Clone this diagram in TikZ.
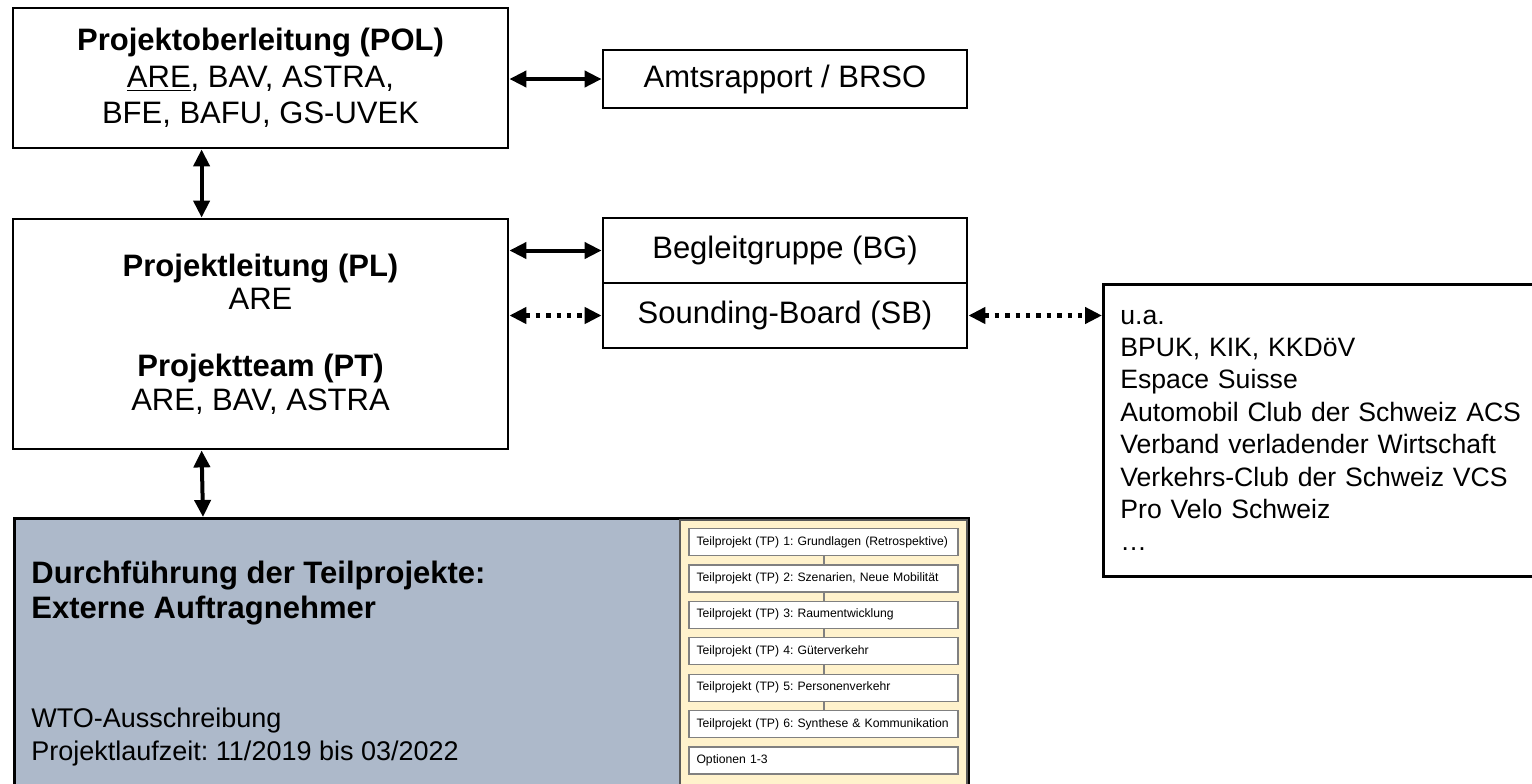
\documentclass[tikz,border=0pt]{standalone}
\usepackage{fontspec}
\setmainfont{Liberation Sans}
\usetikzlibrary{arrows.meta}
\definecolor{dftblue}{HTML}{ADB9CA}
\definecolor{tpcream}{HTML}{FFF2CC}
\frenchspacing

\begin{document}
\begin{tikzpicture}[x=0.5pt, y=-0.5pt,
        box/.style={draw, line width=1.4pt, align=center, inner sep=0pt, font=\fontsize{15.5}{18.3}\selectfont},
        link/.style={{Triangle[length=8.5pt,width=8pt]}-{Triangle[length=8.5pt,width=8pt]}, line width=2pt},
        dotlink/.style={link, line width=2.2pt, dash pattern=on 2.2pt off 3pt},
        tpbox/.style={draw=gray, line width=0.6pt, fill=white, minimum width=134.5pt, minimum height=13.5pt,
            text width=127pt, inner xsep=3.75pt, inner ysep=0pt, align=left, font=\fontsize{6.1}{7}\selectfont},
        tpline/.style={draw=gray, line width=1pt}]
        \useasboundingbox (0,0) rectangle (1532,783);
        \clip (0,0) rectangle (1532,783);

        % steering
        \node[box, minimum width=247.5pt, minimum height=70pt] at (260.5,78) (pol)
            {\textbf{Projektoberleitung (POL)}\\\underline{ARE}, BAV, ASTRA,\\BFE, BAFU, GS-UVEK};
        \node[box, minimum width=182pt, minimum height=29pt] at (785,79) (amtsrapport) {Amtsrapport / BRSO};

        % project management
        \node[box, minimum width=247.5pt, minimum height=115pt, font=\fontsize{15.5}{16.75}\selectfont] at (260.5,334) (pl)
            {\textbf{Projektleitung (PL)}\\ARE\\[16.75pt]\textbf{Projektteam (PT)}\\ARE, BAV, ASTRA};
        \node[box, minimum width=182pt, minimum height=32.5pt] at (785,250.5) (bg) {Begleitgruppe (BG)};
        \node[box, minimum width=182pt, minimum height=32.5pt] at (785,315.5) (sb) {Sounding-Board (SB)};

        % members of the sounding board
        \node[draw, line width=1.4pt, anchor=north west, minimum height=146pt, text width=205pt, inner xsep=8.5pt,
            align=left, font=\fontsize{13.3}{16.2}\selectfont] at (1102,283) (others)
            {u.a.\\BPUK, KIK, KKDöV\\Espace Suisse\\Automobil Club der Schweiz ACS\\Verband verladender Wirtschaft\\Verkehrs-Club der Schweiz VCS\\Pro Velo Schweiz\\…};

        % execution
        \node[draw, line width=1.5pt, fill=dftblue, anchor=north west, minimum width=477pt, minimum height=150pt] at (13,517) (dft) {};
        \node[anchor=west, inner sep=0pt, align=left, font=\bfseries\fontsize{15.5}{17.5}\selectfont] at (31,593) (dft title)
            {Durchführung der Teilprojekte:\\Externe Auftragnehmer};
        \node[anchor=west, inner sep=0pt, align=left, font=\fontsize{13.5}{16.5}\selectfont] at (31,737) (dft info)
            {WTO-Ausschreibung\\Projektlaufzeit: 11/2019 bis 03/2022};

        % sub-projects
        \node[draw=black!65, line width=1pt, fill=tpcream, anchor=north west, minimum width=143.5pt, minimum height=140pt] at (679,519) (tp list) {};
        \node[tpbox] at (823.5,542) (tp1) {Teilprojekt (TP) 1: Grundlagen (Retrospektive)};
        \node[tpbox] at (823.5,578.4) (tp2) {Teilprojekt (TP) 2: Szenarien, Neue Mobilität};
        \node[tpbox] at (823.5,614.8) (tp3) {Teilprojekt (TP) 3: Raumentwicklung};
        \node[tpbox] at (823.5,651.2) (tp4) {Teilprojekt (TP) 4: Güterverkehr};
        \node[tpbox] at (823.5,687.6) (tp5) {Teilprojekt (TP) 5: Personenverkehr};
        \node[tpbox] at (823.5,724) (tp6) {Teilprojekt (TP) 6: Synthese \& Kommunikation};
        \node[tpbox] at (823.5,760.4) (options) {Optionen 1-3};
        \draw[tpline] (tp1) -- (tp2);
        \draw[tpline] (tp2) -- (tp3);
        \draw[tpline] (tp3) -- (tp4);
        \draw[tpline] (tp4) -- (tp5);
        \draw[tpline] (tp5) -- (tp6);

        % links
        \draw[link] (amtsrapport.west-|pol.east) -- (amtsrapport.west);
        \draw[link] ([xshift=95pt]pol.south west) -- ([xshift=95pt]pl.north west);
        \draw[link] (bg.west-|pl.east) -- (bg.west);
        \draw[dotlink] (sb.west-|pl.east) -- (sb.west);
        \draw[dotlink] (sb.east) -- (sb.east-|others.west);
        \draw[link] ([xshift=95pt]pl.south west) -- ([xshift=95pt]dft.north west);
    \end{tikzpicture}
\end{document}
